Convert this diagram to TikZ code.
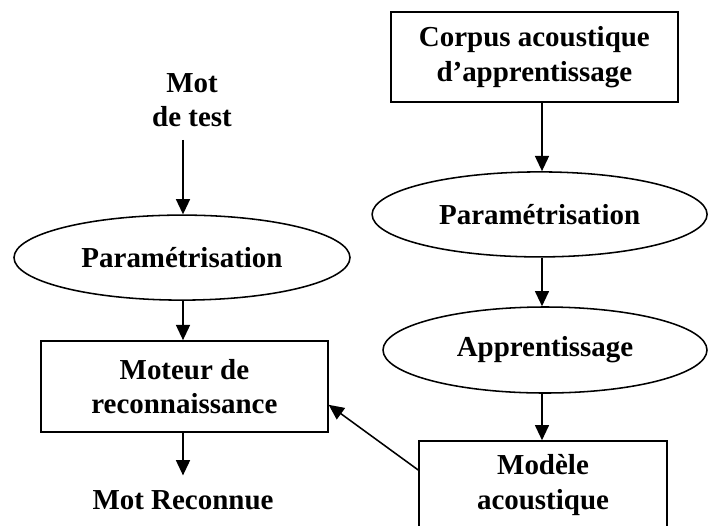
\documentclass[tikz,border=0pt]{standalone}
\usepackage{fontspec}
\setmainfont{Liberation Serif}
\usetikzlibrary{shapes.geometric,arrows.meta}

\begin{document}
\begin{tikzpicture}[
  font=\fontsize{20.6}{24.5}\selectfont\bfseries,
  boite/.style={draw, line width=1.1pt, rectangle, align=center, inner sep=0pt},
  bulle/.style={draw, line width=1.1pt, ellipse, inner sep=0pt},
  fleche/.style={-{Triangle[length=0.38cm,width=0.35cm]}, line width=1.1pt}]
% cadre de l'image
\clip (0,0) rectangle (17.7,-13.125);
\coordinate (axeG) at (4.575,0);
\coordinate (axeD) at (13.55,0);
% reconnaissance (gauche)
\node[align=center] (test) at (4.8,-2.5) {Mot\\de test};
\node[bulle, minimum width=8.4cm, minimum height=2.125cm] (paramG) at (4.55,-6.44) {Paramétrisation};
\node[boite, minimum width=7.175cm, minimum height=2.275cm] (moteur) at (4.61,-9.66) {Moteur de\\reconnaissance};
\node (reco) at (4.575,-12.5) {Mot Reconnue};
% apprentissage (droite)
\node[boite, minimum width=7.175cm, minimum height=2.25cm] (corpus) at (13.36,-1.425) {Corpus acoustique\\d'apprentissage};
\node[bulle, minimum width=8.375cm, minimum height=2.125cm] (paramD) at (13.49,-5.36) {Paramétrisation};
\node[bulle, minimum width=8.1cm, minimum height=2.15cm] (appr) at (13.625,-8.75) {Apprentissage};
\node[boite, minimum width=6.2cm, minimum height=2.2cm] (modele) at (13.575,-12.125) {Modèle\\acoustique};
% fleches
\draw[fleche, shorten <=0.2cm] (test.south -| axeG) -- (paramG.north -| axeG);
\draw[fleche] (paramG.south -| axeG) -- (moteur.north -| axeG);
\draw[fleche, shorten >=0.25cm] (moteur.south -| axeG) -- (reco.north -| axeG);
\draw[fleche] (corpus.south -| axeD) -- (paramD.north -| axeD);
\draw[fleche] (paramD.south -| axeD) -- (appr.north -| axeD);
\draw[fleche] (appr.south -| axeD) -- (modele.north -| axeD);
\draw[fleche] ([yshift=0.375cm]modele.west) -- ([yshift=-0.46cm]moteur.east);
\end{tikzpicture}
\end{document}
